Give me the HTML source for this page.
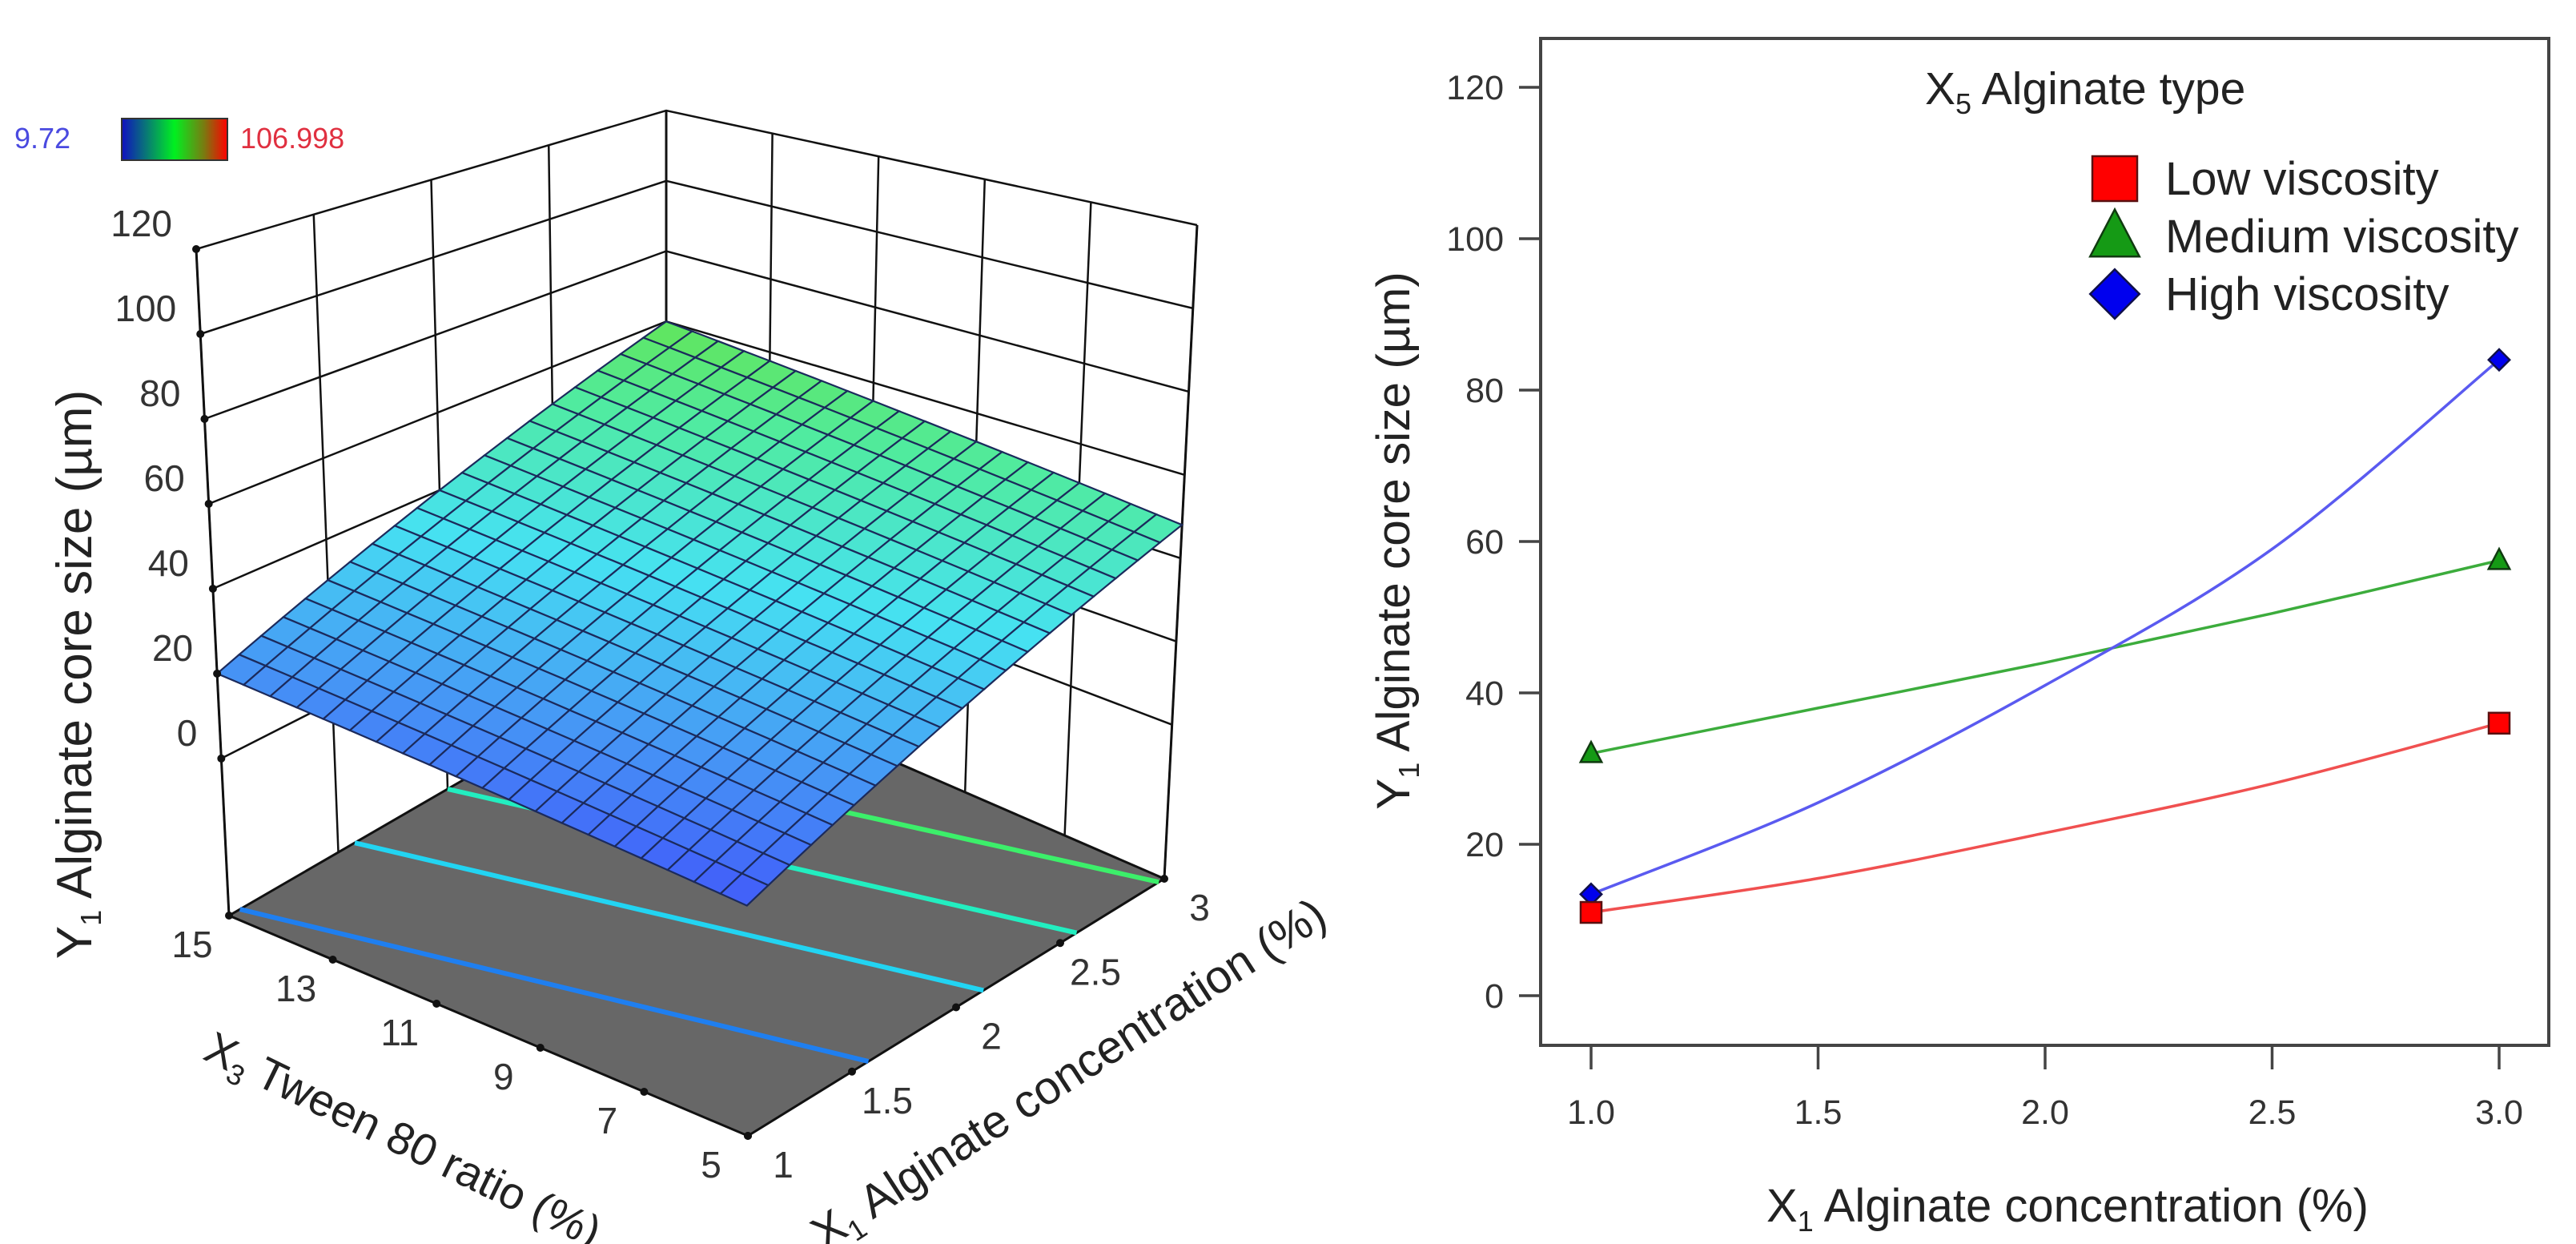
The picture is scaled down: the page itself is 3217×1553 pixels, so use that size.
<!DOCTYPE html>
<html><head><meta charset="utf-8"><style>
html,body{margin:0;padding:0;background:#fff;overflow:hidden;}
svg{display:block;font-family:"Liberation Sans",sans-serif;}
</style></head><body>
<svg id="fig" width="3217" height="1553" viewBox="0 0 3217 1553" xmlns="http://www.w3.org/2000/svg">
<rect x="0" y="0" width="3217" height="1553" fill="#fff"/>
<g id="left3d"></g>
<g id="right2d"></g>
</svg>
<script>
// ---------- 3D surface data ----------
const surfaceCorners = [10, 20, 48, 60]; // z at (X1=1,X3=5),(X1=1,X3=15),(X1=3,X3=5),(X1=3,X3=15)
const contourLevels = [21, 31.5, 40, 47.5];
const contourColors = ["#1f7ff0", "#22d4f2", "#22eec0", "#3cef6a"];
const zTicks = [0, 20, 40, 60, 80, 100, 120];
const x3Ticks = [15, 13, 11, 9, 7, 5];
const x1Ticks = [1, 1.5, 2, 2.5, 3];
const x1TickLabels = ["1", "1.5", "2", "2.5", "3"];
const colorMin = 9.72, colorMax = 106.998;

// ---------- 2D interaction plot data ----------
const cats = [1, 1.5, 2, 2.5, 3];
const lowVals = [11, 15.5, 21.5, 28, 36];
const medVals = [32, 38, 44, 50.5, 57.5];
const highVals = [13.4, 25.5, 41, 59, 84];
const yTicks2 = [0, 20, 40, 60, 80, 100, 120];
const xTicks2 = [1.0, 1.5, 2.0, 2.5, 3.0];
const xTickLabels2 = ["1.0", "1.5", "2.0", "2.5", "3.0"];

const NS = "http://www.w3.org/2000/svg";
function mk(tag, attrs, parent) {
  const e = document.createElementNS(NS, tag);
  for (const k in attrs) e.setAttribute(k, attrs[k]);
  parent.appendChild(e);
  return e;
}

// ===== 3D projection =====
const zmin = -37, zmax = 120;
const floorC = {F: [934, 1418], L: [286, 1143], R: [1454, 1097], B: [832, 827]};
const topC = {F: [930, 458], L: [245, 311], R: [1495, 281], B: [832, 138]};
function bil(c, u, v) {
  const x = c.F[0]*(1-u)*(1-v) + c.L[0]*(1-u)*v + c.R[0]*u*(1-v) + c.B[0]*u*v;
  const y = c.F[1]*(1-u)*(1-v) + c.L[1]*(1-u)*v + c.R[1]*u*(1-v) + c.B[1]*u*v;
  return [x, y];
}
function P(u, v, z) {
  const f = bil(floorC, u, v), t = bil(topC, u, v);
  const s = (z - zmin) / (zmax - zmin);
  return [f[0] + (t[0]-f[0])*s, f[1] + (t[1]-f[1])*s];
}
function U(x1) { return (x1 - 1) / 2; }
function V(x3) { return (x3 - 5) / 10; }
function zAt(u, v) {
  const c = surfaceCorners;
  return c[0]*(1-u)*(1-v) + c[1]*(1-u)*v + c[2]*u*(1-v) + c[3]*u*v;
}
function cmap(val) {
  const t = (val - colorMin) / (colorMax - colorMin);
  const stops = [[-0.1,[60,70,250]],[0.0,[65,90,250]],[0.12,[70,150,245]],[0.27,[70,225,242]],[0.42,[80,235,160]],[0.53,[100,228,80]],[0.75,[220,200,40]],[1.0,[240,40,30]]];
  for (let i = 0; i < stops.length-1; i++) {
    if (t <= stops[i+1][0]) {
      const a = stops[i], b = stops[i+1];
      const f = Math.max(0, (t - a[0]) / (b[0] - a[0]));
      const c = a[1].map((q, k) => Math.round(q + (b[1][k]-q)*f));
      return "rgb(" + c.join(",") + ")";
    }
  }
  return "rgb(240,40,30)";
}
function pts(arr) { return arr.map(p => p[0].toFixed(1) + "," + p[1].toFixed(1)).join(" "); }

const g3 = document.getElementById("left3d");

// colorbar
const cbDefs = mk("defs", {}, g3);
const lg = mk("linearGradient", {id: "cbgrad", x1: "0", y1: "0", x2: "1", y2: "0"}, cbDefs);
[["0", "#1010c0"], ["0.5", "#00f020"], ["0.78", "#7a7a10"], ["1", "#ff0000"]].forEach(s => mk("stop", {offset: s[0], "stop-color": s[1]}, lg));
const cb = mk("rect", {x: 152, y: 148, width: 132, height: 52, fill: "url(#cbgrad)", stroke: "#333", "stroke-width": 2}, g3);


const cbMin = mk("text", {x: 18, y: 185, "font-size": 36, fill: "#4a4ae0"}, g3);
cbMin.textContent = "9.72";


const cbMax = mk("text", {x: 300, y: 185, "font-size": 36, fill: "#e03040"}, g3);
cbMax.textContent = "106.998";



// back walls
const walls = mk("g", {stroke: "#111", "stroke-width": 2.5, fill: "none"}, g3);


zTicks.forEach(z => {
  const a = P(0, 1, z), b = P(1, 1, z), c = P(1, 0, z);
  const l = mk("polyline", {points: pts([a, b, c])}, walls);
  
  
});
x1Ticks.forEach(x1 => {
  const u = U(x1);
  const a = P(u, 1, zmin), b = P(u, 1, zmax);
  const l = mk("line", {x1: a[0], y1: a[1], x2: b[0], y2: b[1]}, walls);
  
  
});
x3Ticks.forEach(x3 => {
  const v = V(x3);
  const a = P(1, v, zmin), b = P(1, v, zmax);
  const l = mk("line", {x1: a[0], y1: a[1], x2: b[0], y2: b[1]}, walls);
  
  
});

// floor
const floor = mk("polygon", {points: pts([P(0,0,zmin), P(1,0,zmin), P(1,1,zmin), P(0,1,zmin)]), fill: "#676767", stroke: "#111", "stroke-width": 3}, g3);



// contours on floor
contourLevels.forEach((lev, i) => {
  const found = [];
  const edges = [[[0,0],[1,0]], [[0,1],[1,1]], [[0,0],[0,1]], [[1,0],[1,1]]];
  edges.forEach(e => {
    const za = zAt(e[0][0], e[0][1]), zb = zAt(e[1][0], e[1][1]);
    if ((lev - za) * (lev - zb) <= 0 && za !== zb) {
      const f = (lev - za) / (zb - za);
      found.push([e[0][0] + (e[1][0]-e[0][0])*f, e[0][1] + (e[1][1]-e[0][1])*f]);
    }
  });
  if (found.length >= 2) {
    const seg = [];
    for (let k = 0; k <= 20; k++) {
      const f = k / 20;
      seg.push(P(found[0][0] + (found[1][0]-found[0][0])*f, found[0][1] + (found[1][1]-found[0][1])*f, zmin));
    }
    const c = mk("polyline", {points: pts(seg), fill: "none", stroke: contourColors[i], "stroke-width": 6}, g3);
    
    
  }
});

// box edges
const edgesG = mk("g", {stroke: "#111", "stroke-width": 3, fill: "none"}, g3);


[[0,1],[1,1],[1,0]].forEach(c => {
  const a = P(c[0], c[1], zmin), b = P(c[0], c[1], zmax);
  const l = mk("line", {x1: a[0], y1: a[1], x2: b[0], y2: b[1]}, edgesG);
  
  
});

// surface
const surf = mk("g", {stroke: "#1b2a5c", "stroke-width": 2.2}, g3);


const N = 20;
const cells = [];
for (let i = 0; i < N; i++) for (let j = 0; j < N; j++) cells.push([i, j]);
cells.sort((a, b) => (b[0] + b[1]) - (a[0] + a[1]));
cells.forEach(c => {
  const u0 = c[0]/N, u1 = (c[0]+1)/N, v0 = c[1]/N, v1 = (c[1]+1)/N;
  const zc = zAt((u0+u1)/2, (v0+v1)/2);
  const poly = mk("polygon", {points: pts([P(u0,v0,zAt(u0,v0)), P(u1,v0,zAt(u1,v0)), P(u1,v1,zAt(u1,v1)), P(u0,v1,zAt(u0,v1))]), fill: cmap(zc)}, surf);
  
  
});

// axis ticks
zTicks.forEach(z => {
  const p = P(0, 1, z);
  const d = mk("circle", {cx: p[0], cy: p[1], r: 5, fill: "#111"}, g3);
  
  
  const t = mk("text", {x: p[0] - 30, y: p[1] - 16, "font-size": 46, fill: "#333", "text-anchor": "end"}, g3);
  t.textContent = String(z);
  
  
});
x3Ticks.forEach(x3 => {
  const p = P(0, V(x3), zmin);
  const d = mk("circle", {cx: p[0], cy: p[1], r: 5, fill: "#111"}, g3);
  
  
  const t = mk("text", {x: p[0] - 46, y: p[1] + 52, "font-size": 46, fill: "#333", "text-anchor": "middle"}, g3);
  t.textContent = String(x3);
  
  
});
x1Ticks.forEach((x1, i) => {
  const p = P(U(x1), 0, zmin);
  const d = mk("circle", {cx: p[0], cy: p[1], r: 5, fill: "#111"}, g3);
  
  
  const t = mk("text", {x: p[0] + 44, y: p[1] + 52, "font-size": 46, fill: "#333", "text-anchor": "middle"}, g3);
  t.textContent = x1TickLabels[i];
  
  
});

// ===== 2D interaction plot =====
const g2 = document.getElementById("right2d");
const box = {l: 1924, t: 48, r: 3183, b: 1305};
function xs(v) { return 1987 + (v - 1) * 567; }
function ys(v) { return 1243 - v * 9.45; }
const frame = mk("rect", {x: box.l, y: box.t, width: box.r - box.l, height: box.b - box.t, fill: "#fff", stroke: "#444", "stroke-width": 4}, g2);


yTicks2.forEach(v => {
  const l = mk("line", {x1: box.l - 27, x2: box.l, y1: ys(v), y2: ys(v), stroke: "#444", "stroke-width": 3.5}, g2);
  
  
  const t = mk("text", {x: box.l - 46, y: ys(v) + 15, "font-size": 43, fill: "#333", "text-anchor": "end"}, g2);
  t.textContent = String(v);
  
  
});
xTicks2.forEach((v, i) => {
  const l = mk("line", {x1: xs(v), x2: xs(v), y1: box.b, y2: box.b + 30, stroke: "#444", "stroke-width": 3.5}, g2);
  
  
  const t = mk("text", {x: xs(v), y: box.b + 98, "font-size": 43, fill: "#333", "text-anchor": "middle"}, g2);
  t.textContent = xTickLabels2[i];
  
  
});
function smoothPath(xv, yv) {
  const p = xv.map((x, i) => [xs(x), ys(yv[i])]);
  let d = "M" + p[0][0] + "," + p[0][1];
  for (let i = 0; i < p.length - 1; i++) {
    const p0 = p[Math.max(0, i-1)], p1 = p[i], p2 = p[i+1], p3 = p[Math.min(p.length-1, i+2)];
    const c1 = [p1[0] + (p2[0]-p0[0])/6, p1[1] + (p2[1]-p0[1])/6];
    const c2 = [p2[0] - (p3[0]-p1[0])/6, p2[1] - (p3[1]-p1[1])/6];
    d += " C" + c1.join(",") + " " + c2.join(",") + " " + p2.join(",");
  }
  return d;
}
const series = [
  {vals: lowVals, color: "#f05050", name: "low-viscosity"},
  {vals: medVals, color: "#3cac3c", name: "medium-viscosity"},
  {vals: highVals, color: "#5a5af0", name: "high-viscosity"}
];
series.forEach(s => {
  const path = mk("path", {d: smoothPath(cats, s.vals), fill: "none", stroke: s.color, "stroke-width": 3.5}, g2);
  
  
});
function marker(kind, cx, cy, size, parent) {
  let e;
  if (kind === 0) e = mk("rect", {x: cx - size/2, y: cy - size/2, width: size, height: size, fill: "#ff0000", stroke: "#5a1010", "stroke-width": 2.5}, parent);
  else if (kind === 1) e = mk("polygon", {points: pts([[cx, cy - size*0.6], [cx + size*0.55, cy + size*0.45], [cx - size*0.55, cy + size*0.45]]), fill: "#159a15", stroke: "#103a10", "stroke-width": 2.5}, parent);
  else e = mk("polygon", {points: pts([[cx, cy - size*0.55], [cx + size*0.55, cy], [cx, cy + size*0.55], [cx - size*0.55, cy]]), fill: "#0000ee", stroke: "#10104a", "stroke-width": 2.5}, parent);
  return e;
}
[medVals, highVals, lowVals].forEach((vals, k) => {
  const kind = [1, 2, 0][k];
  [0, vals.length - 1].forEach(i => {
    const m = marker(kind, xs(cats[i]), ys(vals[i]), kind === 0 ? 26 : 24, g2);
    
    
  });
});
const legNames = ["Low viscosity", "Medium viscosity", "High viscosity"];
legNames.forEach((n, i) => {
  const cy = 223 + i * 72;
  const m = marker(i, 2641, cy, 56, g2);
  
  
  const t = mk("text", {x: 2704, y: cy + 20, "font-size": 58, fill: "#222"}, g2);
  t.textContent = n;
  
  
});

// titles
const fig = document.getElementById("fig");
function addTitle(html, attrs, name) {
  const t = document.createElementNS(NS, "text");
  for (const k in attrs) t.setAttribute(k, attrs[k]);
  t.innerHTML = html;
  
  
  fig.appendChild(t);
}
const sub = (s) => '<tspan font-size="36" dy="12">' + s + '</tspan><tspan dy="-12"> </tspan>';
addTitle('X' + sub('5') + 'Alginate type', {x: 2404, y: 130, "font-size": 57, fill: "#222"}, 'legend-title');
addTitle('X' + sub('1') + 'Alginate concentration (%)', {x: 2582, y: 1525, "font-size": 58, fill: "#222", "text-anchor": "middle"}, 'x-axis-title');
addTitle('Y' + sub('1') + 'Alginate core size (µm)', {transform: "translate(1760,675) rotate(-90)", "font-size": 58.5, fill: "#222", "text-anchor": "middle"}, 'y-axis-title');
addTitle('Y' + sub('1') + 'Alginate core size (µm)', {transform: "translate(114,842) rotate(-90)", "font-size": 62, fill: "#222", "text-anchor": "middle"}, 'z-axis-title-3d');
addTitle('X' + sub('3') + 'Tween 80 ratio (%)', {transform: "translate(495,1440) rotate(26)", "font-size": 56, fill: "#222", "text-anchor": "middle"}, 'x3-axis-title-3d');
addTitle('X' + sub('1') + 'Alginate concentration (%)', {transform: "translate(1345,1357) rotate(-33)", "font-size": 58, fill: "#222", "text-anchor": "middle"}, 'x1-axis-title-3d');
</script>
</body></html>
